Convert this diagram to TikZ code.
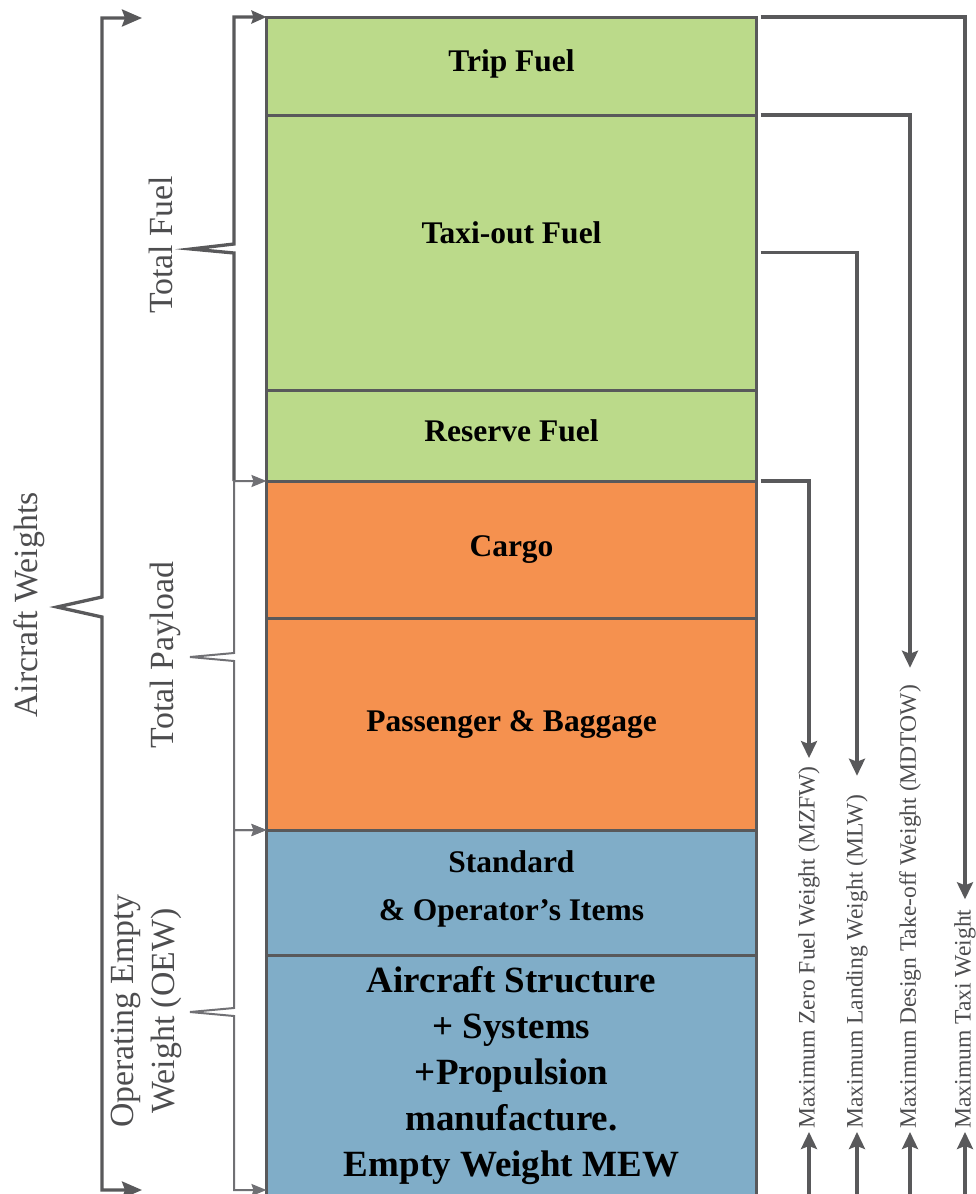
\documentclass[tikz,border=0pt]{standalone}
\usepackage{fontspec}
\setmainfont{Liberation Serif}
\usetikzlibrary{arrows.meta, positioning}
\definecolor{fuel}{HTML}{BBDA8A}
\definecolor{payload}{HTML}{F5914F}
\definecolor{oewblue}{HTML}{80ADC8}
\definecolor{linegray}{HTML}{59595B}
\definecolor{linelight}{HTML}{707074}
\definecolor{labelgray}{HTML}{4D4D4F}

\begin{document}
\begin{tikzpicture}[x=1pt, y=-1pt,
      wbox/.style={draw=linegray, line width=3pt, minimum width=490pt, inner sep=0pt, outer sep=0pt,
                   font=\fontsize{31.5}{48}\selectfont\bfseries, align=center},
      boxtext/.style={font=\fontsize{31.5}{48}\selectfont\bfseries, align=center},
      bigtext/.style={font=\fontsize{37}{46}\selectfont\bfseries, align=center},
      sidelbl/.style={rotate=90, text=labelgray, font=\fontsize{33.8}{41}\selectfont, align=center},
      maxlbl/.style={rotate=90, anchor=west, inner sep=0pt, text=labelgray, font=\fontsize{23.6}{28}\selectfont},
      conn/.style={draw=linegray, line width=3.3pt, -{Stealth[length=17pt, width=16pt, inset=3pt]}},
      bigbrace/.style={draw=linegray, line width=3.3pt,
                       {Stealth[length=20pt, width=17pt, inset=3pt]}-{Stealth[length=20pt, width=17pt, inset=3pt]}},
      fuelbrace/.style={draw=linegray, line width=3.3pt, -{Stealth[length=15pt, width=13pt, inset=2pt]}},
      thinbrace/.style={draw=linelight, line width=2pt,
                        {Stealth[length=15pt, width=12pt, inset=2pt]}-{Stealth[length=15pt, width=12pt, inset=2pt]}}]
    \useasboundingbox (0,0) rectangle (975,1194);

    % weight column
    \node[wbox, fill=fuel, minimum height=98pt, anchor=north west] (trip) at (266.5,17) {};
    \node[wbox, fill=fuel, minimum height=275pt, below=0pt of trip] (taxi) {};
    \node[wbox, fill=fuel, minimum height=91pt, below=0pt of taxi] (reserve) {};
    \node[wbox, fill=payload, minimum height=137pt, below=0pt of reserve] (cargo) {Cargo};
    \node[wbox, fill=payload, minimum height=212pt, below=0pt of cargo] (pax) {Passenger \& Baggage};
    \node[wbox, fill=oewblue, minimum height=125pt, below=0pt of pax] (std) {};
    \node[wbox, fill=oewblue, minimum height=245pt, below=0pt of std] (mew) {};
    \node[boxtext] at ([yshift=2pt]trip.center) {Trip Fuel};
    \node[boxtext] at ([yshift=20pt]taxi.center) {Taxi-out Fuel};
    \node[boxtext] at ([yshift=5pt]reserve.center) {Reserve Fuel};
    \node[boxtext] at ([yshift=4pt]std.center) {Standard\\\& Operator's Items};
    \node[bigtext] at ([yshift=2pt]mew.center)
      {Aircraft Structure\\+ Systems\\+Propulsion\\manufacture.\\Empty Weight MEW};

    % left braces
    \node[sidelbl] (aw) at (29,605) {Aircraft Weights};
    \node[sidelbl] (tf) at (161,245) {Total Fuel};
    \node[sidelbl] (tp) at (165,655) {Total Payload};
    \node[sidelbl] (oew) at (146,1011) {Operating Empty\\Weight (OEW)};
    \coordinate (awtop) at (142,18);
    \coordinate (awbot) at (142,1190);
    \coordinate (oewbot) at (266.5,1190);
    \draw[bigbrace] (awtop) -| (102,597) -- (57,607) -- (102,617) |- (awbot);
    \draw[fuelbrace] (234,481) -- (234,253) -- (191,249) -- (234,244) |- (trip.north west);
    \draw[thinbrace] (cargo.north west) -| (234,653) -- (190,657) -- (234,661) |- (pax.south west);
    \draw[thinbrace] (std.north west) -| (234,1008) -- (190,1012) -- (234,1016) |- (oewbot);

    % limit weights
    \node[maxlbl] (mzfw) at (809,1129) {Maximum Zero Fuel Weight (MZFW)};
    \node[maxlbl] (mlw) at (857,1129) {Maximum Landing Weight (MLW)};
    \node[maxlbl] (mdtow) at (910,1129) {Maximum Design Take-off Weight (MDTOW)};
    \node[maxlbl] (mtw) at (965,1129) {Maximum Taxi Weight};
    \draw[conn, shorten >=10pt] ([xshift=4pt]trip.north east) -| (mtw.east);
    \draw[conn, shorten >=17pt] ([xshift=4pt]taxi.north east) -| (mdtow.east);
    \draw[conn, shorten >=19pt] ([xshift=4pt]taxi.east) -| (mlw.east);
    \draw[conn, shorten >=8pt] ([xshift=4pt]reserve.south east) -| (mzfw.east);
    \coordinate (bot) at (0,1200);
    \foreach \w in {mzfw, mlw, mdtow, mtw}
      \draw[conn, shorten >=3pt] (\w.west |- bot) -- (\w.west);
  \end{tikzpicture}
\end{document}
